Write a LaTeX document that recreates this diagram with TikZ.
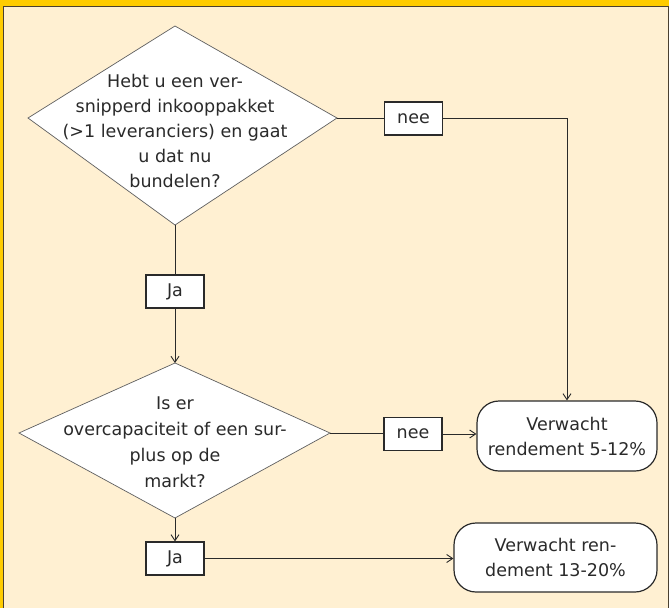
\documentclass[tikz,border=0pt]{standalone}
\usepackage{fontspec}
\setmainfont{DejaVu Sans}
\usetikzlibrary{positioning,arrows.meta}
\definecolor{PaperCream}{HTML}{FFF0D2}
\definecolor{FrameGold}{HTML}{FFCC00}
\definecolor{FrameDark}{HTML}{4A4030}
\definecolor{InkGray}{HTML}{2A2A2A}

\begin{document}
\begin{tikzpicture}[x=1pt,y=-1pt,>={Straight Barb[length=6pt,width=8pt]},every node/.style={font=\fontsize{17.5}{25}\selectfont,text=InkGray},
  label box/.style={draw=InkGray,line width=1.2pt,fill=white,minimum width=58pt,minimum height=33pt,inner sep=0pt},
  outcome/.style={draw=InkGray,line width=1.2pt,fill=white,rounded corners=22pt,align=center,inner sep=0pt},
  decision/.style={draw=InkGray!75,line width=.7pt,fill=white},
  link/.style={draw=InkGray,line width=.9pt}]
\useasboundingbox (0,0) rectangle (669,608);
\fill[PaperCream] (0,0) rectangle (669,608);
\fill[FrameGold] (0,0) rectangle (669,6.5);
\fill[FrameGold] (0,0) rectangle (3.5,608);
\draw[FrameDark,line width=.9pt] (3.5,608) -- (3.5,6.5) -- (668,6.5) -- (668,608);
% first question
\coordinate (q1n) at (175,26);
\coordinate (q1e) at (337,118);
\coordinate (q1s) at (175,225);
\coordinate (q1w) at (28,118);
\draw[decision] (q1n)--(q1e)--(q1s)--(q1w)--cycle;
\node[align=center] (q1txt) at (175,131) {Hebt u een ver-\\snipperd inkooppakket\\(>1 leveranciers) en gaat\\u dat nu\\bundelen?};
% second question
\coordinate (q2n) at (175,363);
\coordinate (q2e) at (330,433);
\coordinate (q2s) at (175,518);
\coordinate (q2w) at (19,433);
\draw[decision] (q2n)--(q2e)--(q2s)--(q2w)--cycle;
\node[align=center,font=\fontsize{17.5}{26}\selectfont] (q2txt) at (175,442) {Is er\\overcapaciteit of een sur-\\plus op de\\markt?};
% answers and outcomes
\node[label box] (nee1) at (413.5,118.5) {nee};
\node[label box] (ja1) at (175,291.5) {Ja};
\node[label box] (nee2) at (413,434) {nee};
\node[label box] (ja2) at (175,558.5) {Ja};
\node[outcome,minimum width=180pt,minimum height=70pt] (low) at (567,436) {Verwacht\\rendement 5-12\%};
\node[outcome,minimum width=203pt,minimum height=69pt] (high) at (555.5,557.5) {Verwacht ren-\\dement 13-20\%};
\draw[link] (q1e)--(q1e -| nee1.west);
\draw[link,->] (nee1.east) -| (low.north);
\draw[link] (q1s)--(ja1.north);
\draw[link,->] (ja1.south)--(q2n);
\draw[link] (q2e)--(q2e -| nee2.west);
\draw[link,->] (nee2.east)--(nee2.east -| low.west);
\draw[link,->] (q2s)--(ja2.north);
\draw[link,->] (ja2.east)--(ja2.east -| high.west);
\end{tikzpicture}
\end{document}
